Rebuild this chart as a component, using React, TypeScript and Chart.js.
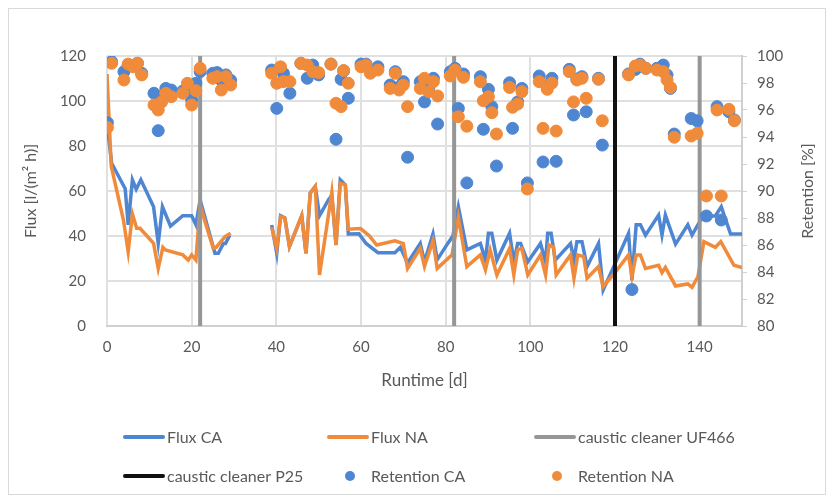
import React, { useEffect, useRef } from 'react';
import { Chart, registerables } from 'chart.js';

Chart.register(...registerables);

// ---------- data ----------
const fluxCaDays = [0,1.1,4.3,5,6,6.9,8,11,12.1,13.1,15,17.9,20,21,22,25.5,26.3,27.5,28,29,34,38.9,40.1,41,42,43.1,46,47,48,49.2,50.2,52.3,53.1,54.1,55.1,56.3,57,59.5,61.2,64,68,69.3,71,74,75,77,78,80.5,81.7,83,85,88.2,89.4,90.1,90.9,92.1,95.1,96.1,97,97.7,99.4,102.4,103.6,104.1,104.9,105.9,109.5,110.3,111,112.2,113.4,116.1,117.2,119.7,123.2,124,125,126,127.2,130.3,131.1,131.9,134.3,137.2,138.2,140.2,141.8,143.7,145.1,147.3,150];
const fluxCa = [90,72.3,61,45,65,60.8,65,53,36.7,53,44.4,49,49,45,56,32.3,32.3,36.7,36.7,40.4,null,44.9,32.3,49,48,35.3,49,32.3,59,62,49,56,58,36,65,62.7,40.9,41,36.7,32.6,32.6,35,28,36.7,28.5,40.9,29.4,36.7,40,53,33.8,36.7,29.3,41.2,41.2,29.3,41.2,28.5,36.7,36.7,28.5,36.7,28.5,41.2,41.2,29.3,36.7,29.3,37.5,37.5,26.4,36.7,16,26.4,41.2,20.4,45,45,40.4,49.3,40.4,49.3,36.4,45,40.4,47,48.9,48.9,53,40.9,40.9];

const fluxNaDays = [0,1,3.9,5,6,7,7.8,11,12.1,13.2,13.8,17.9,19.2,20,21,22,22.8,25.1,25.8,27.9,29.2,34,38.9,40.1,41,42,43.1,46,47,48,49.2,50.2,53.1,54.1,55.1,56.3,57,59.9,61.2,62,63.7,68,70,71,74,75,77,78,81.5,83,85,88.2,89.4,90.5,92.1,95.1,96.1,97,98,99.4,102.4,103.6,104.4,105.5,106.1,109.5,110.3,111.2,112.6,113.4,116.1,117.2,119.7,123.2,124,125,126,127.2,130.3,131.1,131.9,134.3,137.2,138.2,139.6,141,143.7,145,148.1,150];
const fluxNa = [112,71,47,33,49.8,43.4,43.4,36.7,25.6,35,33.8,31.6,29.3,31.6,29.3,54,48.6,34.5,35,39.7,41.2,null,43.8,34.5,48.6,48,35.3,49,32.3,59,62,22.7,59.3,36,63.5,62.7,43,43.3,41.3,40,36,37.9,36.6,25.6,34.5,26.4,37.9,25.6,31.6,48.3,26.4,31.6,24.9,33.8,22.7,34.5,22.7,33.8,34.5,22.7,31.6,22.7,36,35,22.7,31.6,21.2,31.6,30.8,21.2,26.4,17.5,23,31.6,22,31.6,31.6,25.6,27,23.7,26,17.8,18.7,17.2,22,37.5,35,37.5,27,26];

const retDays = [0.1,1.1,4,5,6.2,7.2,8.2,11.1,12.1,12.9,13.9,15.2,17.9,19,20,21,22,25,26,27,28.1,29.2,38.9,40.1,41,41.7,43.2,45.8,47.3,48.6,50,52.9,54.1,55.3,55.9,57,60,61.2,62.2,64,66.9,68.1,69,70,71,74,75,76,77.1,78.1,81.1,82.2,83,84.2,85,88.2,88.9,90.1,90.9,92,95.1,95.8,97,98,99.3,102.1,103,104,105.1,106.1,109.2,110.2,111,112.2,113.2,116.1,117,123.2,124,124.8,125.9,127.3,129.9,131.4,132.3,133.1,134,138,139.4,141.6,144.1,145.1,146.9,148.2];
const retCa = [95.06,99.58,98.84,99.3,99.3,99.46,98.72,97.24,94.47,97.0,97.6,97.48,97.4,97.6,96.74,97.98,98.84,98.72,98.77,98.2,98.6,98.2,98.96,96.12,98.96,98.7,97.24,99.46,98.35,99.33,98.6,99.4,93.83,98.27,98.9,96.87,99.4,99.4,98.9,99.2,97.85,98.84,97.7,98.1,92.5,98.1,96.6,97.6,98.35,94.96,98.84,99.09,96.12,98.67,90.6,98.47,94.57,97.53,96.25,91.85,98.02,94.64,96.6,97.6,90.6,98.52,92.15,97.8,98.35,92.2,99.01,95.63,98.3,98.47,95.87,98.35,93.4,98.67,82.7,99.0,99.4,99.09,99.09,99.33,98.6,97.6,94.22,95.37,95.2,88.15,96.25,87.85,95.87,95.26];
const retNa = [94.7,99.46,98.22,99.4,99.2,99.46,98.6,96.37,96.0,96.6,97.24,96.98,97.24,97.98,96.37,97.43,99.09,98.35,98.47,97.48,98.47,97.85,98.72,97.98,99.2,98.1,98.1,99.46,99.33,98.84,98.77,99.4,96.5,96.25,98.92,97.98,99.2,99.33,98.72,98.96,97.6,98.72,97.48,97.85,96.25,97.6,98.35,97.36,98.1,97.04,98.52,98.96,95.5,98.42,94.8,98.1,96.69,96.98,95.8,94.22,97.67,96.2,96.44,97.36,90.15,98.1,94.64,97.53,98.0,94.44,98.84,96.6,98.22,98.35,96.87,98.27,95.2,98.6,null,99.26,99.33,99.09,98.96,98.84,98.22,97.67,93.98,94.07,94.27,89.63,96.0,89.63,96.05,95.2];

const uf466Days = [22, 82, 140];
const p25Days = [120];

const fluxTicks = [0, 20, 40, 60, 80, 100, 120];
const retTicks = [80, 82, 84, 86, 88, 90, 92, 94, 96, 98, 100];
const dayTicks = [0, 20, 40, 60, 80, 100, 120, 140];
const dayMax = 150;

const labels = {
  fluxCa: 'Flux CA',
  fluxNa: 'Flux NA',
  uf466: 'caustic cleaner UF466',
  p25: 'caustic cleaner P25',
  retCa: 'Retention CA',
  retNa: 'Retention NA',
};
const titles = {
  x: 'Runtime [d]',
  y: 'Flux [l/(m² h)]',
  y1: 'Retention [%]',
};

// ---------- style ----------
const FONT = 'Lato, "Open Sans", sans-serif';
const TXT = '#595959';
const GRID = '#e0e0e0';
const BLUE = '#4f86d2';
const ORANGE = '#f08b3b';
const GRAY = '#969696';
const BLACK = '#111111';

function pairs(xs: number[], ys: (number | null)[]) {
  return xs.map((x, i) => ({ x, y: ys[i] }));
}

function vlines(days: number[]) {
  const lo = fluxTicks[0];
  const hi = fluxTicks[fluxTicks.length - 1];
  const pts: { x: number; y: number | null }[] = [];
  days.forEach((d, i) => {
    if (i > 0) pts.push({ x: (days[i - 1] + d) / 2, y: null });
    pts.push({ x: d, y: lo }, { x: d, y: hi });
  });
  return pts;
}

const legendPlugin = {
  id: 'customLegend',
  afterDraw(chart: any) {
    const ctx = chart.ctx;
    const row1 = 428;
    const row2 = 467;
    const cols = [115, 319, 526];
    const items = [
      { label: labels.fluxCa, kind: 'line', color: BLUE, col: 0, y: row1 },
      { label: labels.fluxNa, kind: 'line', color: ORANGE, col: 1, y: row1 },
      { label: labels.uf466, kind: 'line', color: GRAY, col: 2, y: row1 },
      { label: labels.p25, kind: 'line', color: BLACK, col: 0, y: row2 },
      { label: labels.retCa, kind: 'dot', color: BLUE, col: 1, y: row2 },
      { label: labels.retNa, kind: 'dot', color: ORANGE, col: 2, y: row2 },
    ];
    ctx.save();
    ctx.font = `16px ${FONT}`;
    ctx.textBaseline = 'middle';
    ctx.textAlign = 'left';
    for (const it of items) {
      const x0 = cols[it.col];
      if (it.kind === 'line') {
        ctx.strokeStyle = it.color;
        ctx.lineWidth = 4;
        ctx.lineCap = 'round';
        ctx.beginPath();
        ctx.moveTo(x0 + 1, it.y);
        ctx.lineTo(x0 + 39, it.y);
        ctx.stroke();
      } else {
        ctx.fillStyle = it.color;
        ctx.beginPath();
        ctx.arc(x0 + 22, it.y, 5, 0, Math.PI * 2);
        ctx.fill();
      }
      ctx.fillStyle = TXT;
      ctx.fillText(it.label, x0 + 43, it.y + 1);
    }
    // right axis title, reading bottom-to-top
    const area = chart.chartArea;
    ctx.translate(799, (area.top + area.bottom) / 2);
    ctx.rotate(-Math.PI / 2);
    ctx.textAlign = 'center';
    ctx.font = `16px ${FONT}`;
    ctx.fillText(titles.y1, 0, 0);
    ctx.restore();
  },
};

export default function App() {
  const ref = useRef<HTMLCanvasElement | null>(null);

  useEffect(() => {
    if (!ref.current) return;
    const chart = new Chart(ref.current, {
      type: 'line',
      data: {
        datasets: [
          {
            label: labels.fluxCa,
            data: pairs(fluxCaDays, fluxCa),
            borderColor: BLUE,
            backgroundColor: BLUE,
            borderWidth: 3.5,
            pointRadius: 0,
            tension: 0,
            spanGaps: false,
            yAxisID: 'y',
            order: 5,
          },
          {
            label: labels.fluxNa,
            data: pairs(fluxNaDays, fluxNa),
            borderColor: ORANGE,
            backgroundColor: ORANGE,
            borderWidth: 3.5,
            pointRadius: 0,
            tension: 0,
            spanGaps: false,
            yAxisID: 'y',
            order: 4,
          },
          {
            label: labels.uf466,
            data: vlines(uf466Days),
            borderColor: GRAY,
            borderWidth: 4,
            pointRadius: 0,
            spanGaps: false,
            yAxisID: 'y',
            order: 3,
          },
          {
            label: labels.p25,
            data: vlines(p25Days),
            borderColor: BLACK,
            borderWidth: 4,
            pointRadius: 0,
            spanGaps: false,
            yAxisID: 'y',
            order: 2,
          },
          {
            label: labels.retCa,
            data: pairs(retDays, retCa),
            showLine: false,
            borderColor: BLUE,
            backgroundColor: BLUE,
            pointRadius: 6,
            pointBorderWidth: 1,
            yAxisID: 'y1',
            order: 1,
          },
          {
            label: labels.retNa,
            data: pairs(retDays, retNa),
            showLine: false,
            borderColor: ORANGE,
            backgroundColor: ORANGE,
            pointRadius: 6,
            pointBorderWidth: 1,
            yAxisID: 'y1',
            order: 0,
          },
        ] as any,
      },
      options: {
        animation: false,
        responsive: true,
        maintainAspectRatio: false,
        layout: { padding: { top: 47, bottom: 103, left: 0, right: 0 } },
        plugins: {
          legend: { display: false },
          tooltip: { enabled: false },
        },
        scales: {
          x: {
            type: 'linear',
            min: dayTicks[0],
            max: dayMax,
            afterBuildTicks: (s: any) => {
              s.ticks = dayTicks.map((v) => ({ value: v }));
            },
            afterFit: (s: any) => {
              s.height = 65;
            },
            ticks: {
              color: TXT,
              font: { family: FONT, size: 15 },
              padding: 12,
              maxRotation: 0,
            },
            grid: { color: GRID, lineWidth: 2, drawTicks: false },
            border: { color: '#d0d0d0', width: 2 },
            title: {
              display: true,
              text: titles.x,
              color: TXT,
              font: { family: FONT, size: 17 },
              padding: { top: 0, bottom: 0 },
            },
          },
          y: {
            type: 'linear',
            position: 'left',
            min: fluxTicks[0],
            max: fluxTicks[fluxTicks.length - 1],
            afterBuildTicks: (s: any) => {
              s.ticks = fluxTicks.map((v) => ({ value: v }));
            },
            afterFit: (s: any) => {
              s.width = 98;
            },
            ticks: {
              color: TXT,
              font: { family: FONT, size: 15 },
              padding: 21,
            },
            grid: { color: GRID, lineWidth: 2, drawTicks: false },
            border: { display: false },
            title: {
              display: true,
              text: titles.y,
              color: TXT,
              font: { family: FONT, size: 16 },
              padding: { top: 12, bottom: 0 },
            },
          },
          y1: {
            type: 'linear',
            position: 'right',
            min: retTicks[0],
            max: retTicks[retTicks.length - 1],
            afterBuildTicks: (s: any) => {
              s.ticks = retTicks.map((v) => ({ value: v }));
            },
            afterFit: (s: any) => {
              s.width = 83;
            },
            ticks: {
              color: TXT,
              font: { family: FONT, size: 15 },
              padding: 10,
            },
            grid: {
              drawOnChartArea: false,
              color: '#d0d0d0',
              tickLength: 5,
              lineWidth: 1,
            },
            border: { color: '#d0d0d0', width: 2 },
            title: { display: false },
          },
        },
      },
      plugins: [legendPlugin],
    } as any);
    return () => chart.destroy();
  }, []);

  return (
    <div
      style={{
        width: 818,
        height: 487,
        border: '1px solid #d9d9d9',
        boxSizing: 'border-box',
        position: 'relative',
        background: '#ffffff',
      }}
    >
      <canvas ref={ref} />
    </div>
  );
}
